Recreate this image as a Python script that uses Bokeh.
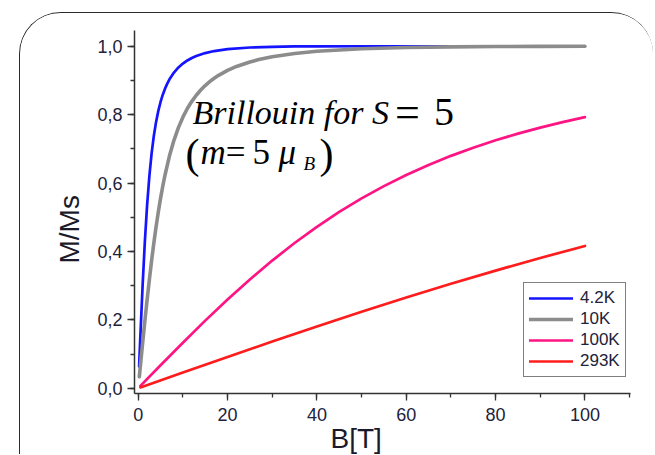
from bokeh.plotting import figure
from bokeh.models import (Range1d, SingleIntervalTicker, CustomJSTickFormatter,
                          Legend, LegendItem, Label, Title)
from bokeh.embed import file_html
from bokeh.resources import INLINE

# Reduced magnetisation M/Ms versus field B for a spin S=5 paramagnet
blue_B = [0.2, 0.5, 1, 1.5, 2, 2.5, 3, 3.5, 4, 4.5, 5, 5.5, 6, 6.5, 7, 8, 9,
          10, 11, 12, 13, 15, 17, 20, 25, 30, 35, 40, 50, 60, 80, 100]
blue_M = [0.0639, 0.1578, 0.3043, 0.4316, 0.5366, 0.6205, 0.6865, 0.7381,
          0.7787, 0.8110, 0.8370, 0.8583, 0.8759, 0.8906, 0.9031, 0.9229,
          0.9379, 0.9494, 0.9584, 0.9656, 0.9714, 0.9800, 0.9859, 0.9915,
          0.9963, 0.9983, 0.9993, 0.9997, 0.9999, 1.0, 1.0, 1.0]

gray_B = [0.25, 0.5, 1, 1.5, 2, 2.5, 3, 3.5, 4, 4.5, 5, 5.5, 6, 7, 8, 9, 10,
          11, 12, 13, 14, 15, 16, 17, 18, 20, 22, 25, 27, 30, 35, 40, 50, 60,
          70, 80, 90, 100]
gray_M = [0.0336, 0.0670, 0.1331, 0.1975, 0.2593, 0.3180, 0.3732, 0.4246,
          0.4719, 0.5154, 0.5550, 0.5910, 0.6235, 0.6794, 0.7249, 0.7620,
          0.7925, 0.8178, 0.8389, 0.8567, 0.8719, 0.8850, 0.8964, 0.9062,
          0.9149, 0.9294, 0.9409, 0.9541, 0.9610, 0.9692, 0.9789, 0.9854,
          0.9928, 0.9964, 0.9982, 0.9991, 0.9995, 0.9999]

pink_B = [0.5, 5, 10, 15, 20, 25, 30, 35, 40, 45, 50, 55, 60, 65, 70, 75, 80,
          85, 90, 95, 100]
pink_M = [0.0067, 0.0670, 0.1331, 0.1975, 0.2593, 0.3180, 0.3732, 0.4246,
          0.4719, 0.5154, 0.5550, 0.5910, 0.6235, 0.6529, 0.6794, 0.7033,
          0.7249, 0.7444, 0.7620, 0.7780, 0.7925]

red_B = [0.5, 10, 20, 30, 40, 50, 60, 70, 80, 90, 100]
red_M = [0.0023, 0.0458, 0.0913, 0.1363, 0.1803, 0.2234, 0.2651, 0.3053,
         0.3439, 0.3808, 0.4159]

series_labels = ["4.2K", "10K", "100K", "293K"]
series_colors = ["#1414ff", "#8c8c8c", "#ff1483", "#ff1c1c"]
series_widths = [2.7, 3.6, 2.7, 2.7]

p = figure(width=634, height=442,
           x_range=Range1d(-0.83, 110.2), y_range=Range1d(-0.0155, 1.046),
           output_backend="svg", toolbar_location=None,
           min_border_left=114, min_border_right=24,
           min_border_top=17, min_border_bottom=62)
# rounded panel outline around the whole chart
p.styles = {
    "margin-left": "19px", "margin-top": "12px",
    "border-top": "1.5px solid #2b2b2b",
    "border-left": "1.5px solid #2b2b2b",
    "border-radius": "42px 42px 0 0",
    "overflow": "hidden",
}
p.outline_line_color = None
p.xgrid.visible = False
p.ygrid.visible = False
p.background_fill_color = "white"
p.border_fill_color = "white"

renderers = []
for xs, ys, c, w in zip([blue_B, gray_B, pink_B, red_B],
                        [blue_M, gray_M, pink_M, red_M],
                        series_colors, series_widths):
    renderers.append(p.line(xs, ys, line_color=c, line_width=w,
                            line_join="round", line_cap="round"))

# Axes
p.xaxis.ticker = SingleIntervalTicker(interval=20, num_minor_ticks=2)
p.yaxis.ticker = SingleIntervalTicker(interval=0.2, num_minor_ticks=2)
p.yaxis.formatter = CustomJSTickFormatter(
    code="return tick.toFixed(1).replace('.', ',');")
for ax in (p.xaxis[0], p.yaxis[0]):
    ax.axis_line_color = "#333333"
    ax.axis_line_width = 1.5
    ax.major_tick_line_color = "#333333"
    ax.minor_tick_line_color = "#333333"
    ax.major_tick_line_width = 1.3
    ax.minor_tick_line_width = 1.3
    ax.major_tick_in = 0
    ax.major_tick_out = 7
    ax.minor_tick_in = 0
    ax.minor_tick_out = 4
    ax.major_label_text_font = "Liberation Sans"
    ax.major_label_text_font_size = "18px"
    ax.major_label_text_color = "#22223a"
p.xaxis.major_label_standoff = 7
p.yaxis.major_label_standoff = 5

# Axis titles, set off-centre like the data span
p.add_layout(Title(text="B[T]", align="left", offset=196, standoff=-6,
                   text_font="Liberation Sans", text_font_size="28px",
                   text_font_style="normal", text_color="#1a1a2a"), "below")
p.add_layout(Title(text="M/Ms", align="left", offset=130, standoff=20,
                   text_font="Liberation Sans", text_font_size="28px",
                   text_font_style="normal", text_color="#1a1a2a"), "left")

# Legend
legend = Legend(items=[LegendItem(label=l, renderers=[r])
                       for l, r in zip(series_labels, renderers)],
                location=(389, 16))
legend.border_line_color = "black"
legend.border_line_width = 1.5
legend.background_fill_color = "white"
legend.background_fill_alpha = 1.0
legend.label_text_font = "Liberation Sans"
legend.label_text_font_size = "17px"
legend.label_text_color = "#22223a"
legend.padding = 5
legend.spacing = 1
legend.margin = 0
legend.glyph_width = 44
legend.glyph_height = 20
legend.label_height = 20
legend.label_standoff = 7
p.add_layout(legend)

# Annotation: Brillouin function for S=5, m = 5 muB
serif = "Liberation Serif"
annots = [
    ("Brillouin for S", 12.16, 0.8074, 34, "italic"),
    ("=", 57.5, 0.8074, 44, "normal"),
    ("5", 66.2, 0.8074, 40, "normal"),
    ("(", 10.6, 0.6850, 42, "normal"),
    ("m", 13.95, 0.6906, 35, "italic"),
    ("=", 19.6, 0.6906, 35, "normal"),
    ("5", 25.6, 0.6906, 35, "normal"),
    ("\u03bc", 31.4, 0.6906, 35, "italic"),
    ("B", 37.0, 0.6576, 19, "italic"),
    (")", 40.6, 0.6850, 42, "normal"),
]
for txt, x, y, size, style in annots:
    p.add_layout(Label(x=x, y=y, text=txt, text_font=serif,
                       text_font_size=f"{size}px", text_font_style=style,
                       text_color="black", text_baseline="alphabetic",
                       text_align="left"))

open("out.html", "w").write(file_html(p, INLINE))
